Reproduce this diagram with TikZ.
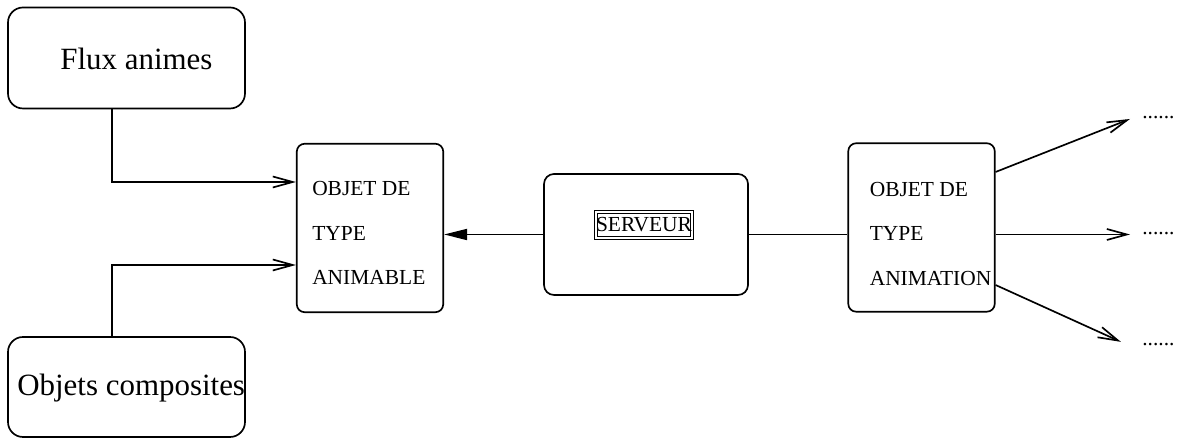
\documentclass[tikz,border=0pt]{standalone}
\usepackage{fontspec}
\setmainfont{Liberation Serif}
\usetikzlibrary{positioning,arrows.meta,calc}

\begin{document}
\begin{tikzpicture}[
  box/.style={draw, line width=0.95pt, inner sep=0pt},
  srcbox/.style={box, rounded corners=0.3cm, minimum width=4.74cm, minimum height=2.02cm},
  objbox/.style={box, rounded corners=0.16cm, minimum width=2.93cm, minimum height=3.37cm},
  srvbox/.style={box, rounded corners=0.2cm, minimum width=4.08cm, minimum height=2.42cm},
  bigtxt/.style={font=\fontsize{17.6}{21}\selectfont, inner sep=0pt},
  objtxt/.style={font=\fontsize{12.2}{25.3}\selectfont, align=left, inner sep=0pt, anchor=north west},
  more/.style={font=\fontsize{12.2}{14}\selectfont, text height=0pt, text depth=0pt,
               inner ysep=0pt, inner xsep=0.24cm, anchor=west},
  arr/.style={line width=0.95pt, -{Straight Barb[length=0.4cm, width=0.22cm, line width=0.95pt]}},
  farr/.style={line width=0.95pt, -{Triangle[length=0.46cm, width=0.22cm]}},
  line/.style={line width=0.95pt}
]
\useasboundingbox (0,0) rectangle (23.66,8.76);

% Sources
\node[srcbox] (flux) at (2.53, 7.60) {};
\node[srcbox, minimum height=2.0cm] (compos) at (2.53, 1.02) {};
\node[bigtxt, anchor=base west] (fluxtxt) at ([xshift=-1.33cm, yshift=-0.24cm]flux.center) {Flux animes};
\node[bigtxt, anchor=base west] (compostxt) at ([xshift=-2.19cm, yshift=-0.18cm]compos.center) {Objets composites};

% Objects
\node[objbox] (animable) at (7.40, 4.20) {};
\node[objtxt] (animabletxt) at ([xshift=0.32cm, yshift=-0.77cm]animable.north west)
  {OBJET DE\\TYPE\\ANIMABLE};
\node[objbox] (animation) at (18.43, 4.21) {};
\node[objtxt] (animationtxt) at ([xshift=0.44cm, yshift=-0.79cm]animation.north west)
  {OBJET DE\\TYPE\\ANIMATION};

% Server
\node[srvbox] (serveur) at (12.92, 4.07) {};
\node[draw, double, double distance=0.04cm, line width=0.45pt, inner xsep=0.0cm,
      minimum height=0.47cm, font=\fontsize{12.2}{14}\selectfont] (srvtxt)
  at ([xshift=-0.04cm, yshift=0.19cm]serveur.center) {SERVEUR};

% Outputs
\node[more] (dots1) at (22.60, 6.38) {......};
\node[more] (dots2) at (22.60, 4.07) {......};
\node[more] (dots3) at (22.60, 1.84) {......};

% Arrows - inputs
\draw[arr] ([xshift=-0.29cm]flux.south) |- ([yshift=0.92cm]animable.west);
\draw[arr] ([xshift=-0.29cm]compos.north) |- ([yshift=-0.74cm]animable.west);
\draw[farr] (serveur.west) -- (serveur.west -| animable.east);
\draw[line] (serveur.east) -- (serveur.east -| animation.west);

% Arrows - outputs
\draw[arr] ([yshift=1.11cm]animation.east) -- (dots1.west);
\draw[arr] (animation.east |- dots2.west) -- (dots2.west);
\draw[arr, shorten >=0.2cm] ([yshift=-1.15cm]animation.east) -- (dots3.west);

\end{tikzpicture}
\end{document}
